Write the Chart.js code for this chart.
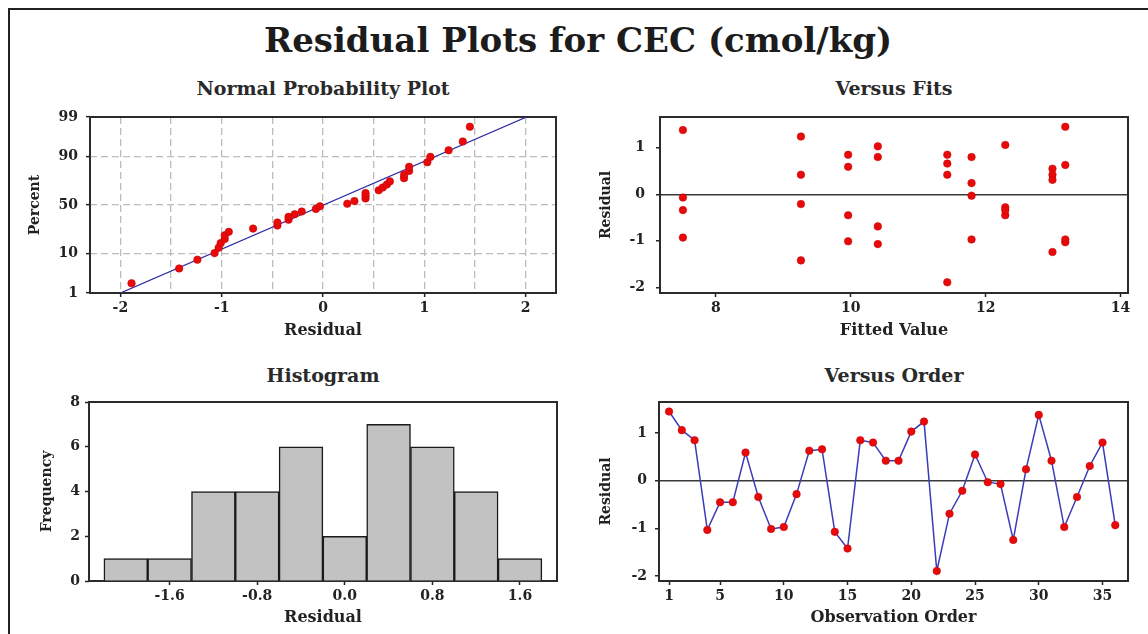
<!DOCTYPE html>
<html>
<head>
<meta charset="utf-8">
<title>Residual Plots for CEC (cmol/kg)</title>
<script src="https://cdn.jsdelivr.net/npm/chart.js@4.4.1/dist/chart.umd.min.js"></script>
<style>
  html, body { margin: 0; padding: 0; background: #fff; }
  body { width: 1148px; height: 634px; position: relative; overflow: hidden; font-family: "DejaVu Serif", serif; }
  .frame { position: absolute; left: 8px; top: 8px; width: 1160px; height: 660px; border-top: 2px solid #222; border-left: 2px solid #222; }
  .title { position: absolute; font-weight: bold; line-height: 1; white-space: nowrap; transform: translateX(-50%); color: #1c1c1c; }
  .main { left: 578px; top: 23px; font-size: 34px; }
  .sub { font-size: 19px; color: #2a2a2a; }
  canvas { position: absolute; }
</style>
</head>
<body>
<div class="frame"></div>
<div class="title main">Residual Plots for CEC (cmol/kg)</div>
<div class="title sub" style="left:323px; top:79px;">Normal Probability Plot</div>
<div class="title sub" style="left:894px; top:79px;">Versus Fits</div>
<div class="title sub" style="left:323px; top:366px;">Histogram</div>
<div class="title sub" style="left:894px; top:366px;">Versus Order</div>

<canvas id="normal" width="540" height="233" style="left:26px; top:107px;"></canvas>
<canvas id="fits" width="541" height="233" style="left:597px; top:107px;"></canvas>
<canvas id="hist" width="529" height="235" style="left:38px; top:392px;"></canvas>
<canvas id="order" width="541" height="235" style="left:597px; top:392px;"></canvas>

<script>
// residuals in observation order
const residuals = [1.45, 1.06, 0.85, -1.03, -0.45, -0.45, 0.59, -0.34, -1.01, -0.97,
  -0.28, 0.63, 0.66, -1.07, -1.42, 0.85, 0.80, 0.42, 0.42, 1.03,
  1.24, -1.89, -0.69, -0.21, 0.55, -0.03, -0.07, -1.24, 0.24, 1.38,
  0.42, -0.97, -0.34, 0.31, 0.80, -0.93];

// fitted value of each observation
const fittedValues = [13.18, 12.29, 9.96, 13.18, 9.96, 12.29, 9.96, 7.51, 9.96, 11.79,
  12.29, 13.18, 11.43, 10.40, 9.26, 11.43, 10.40, 9.26, 11.43, 10.40,
  9.26, 11.43, 10.40, 9.26, 12.99, 11.79, 7.51, 12.99, 11.79, 7.51,
  12.99, 13.18, 12.29, 12.99, 11.79, 7.51];

// histogram
const histBinCenters = [-2.0, -1.6, -1.2, -0.8, -0.4, 0.0, 0.4, 0.8, 1.2, 1.6];
const histCounts = [1, 1, 4, 4, 6, 2, 7, 6, 4, 1];

// normal probability fit line (residual at 1% and 99%)
const fitLineResidual = [-2.0, 2.01];
const fitLinePercent = [1, 99];

// tick labels
const probTicks = [1, 10, 50, 90, 99];
const normalGridX = [-2, -1.5, -1, -0.5, 0, 0.5, 1, 1.5, 2];
const fitsTicks = [8, 10, 12, 14];
const histTicks = [-1.6, -0.8, 0.0, 0.8, 1.6];
const freqTicks = [0, 2, 4, 6, 8];
const orderTicks = [1, 5, 10, 15, 20, 25, 30, 35];
const residTicks = [-2, -1, 0, 1];

// inverse standard normal CDF (Acklam)
function probit(p) {
  const a = [-39.6968302866538, 220.946098424521, -275.928510446969, 138.357751867269, -30.6647980661472, 2.50662827745924];
  const b = [-54.4760987982241, 161.585836858041, -155.698979859887, 66.8013118877197, -13.2806815528857];
  const c = [-0.00778489400243029, -0.322396458041136, -2.40075827716184, -2.54973253934373, 4.37466414146497, 2.93816398269878];
  const d = [0.00778469570904146, 0.32246712907004, 2.445134137143, 3.75440866190742];
  const tail = q => (((((c[0] * q + c[1]) * q + c[2]) * q + c[3]) * q + c[4]) * q + c[5]) /
    ((((d[0] * q + d[1]) * q + d[2]) * q + d[3]) * q + 1);
  if (p < 0.02425) return tail(Math.sqrt(-2 * Math.log(p)));
  if (p > 1 - 0.02425) return -tail(Math.sqrt(-2 * Math.log(1 - p)));
  const q = p - 0.5, r = q * q;
  return (((((a[0] * r + a[1]) * r + a[2]) * r + a[3]) * r + a[4]) * r + a[5]) * q /
    (((((b[0] * r + b[1]) * r + b[2]) * r + b[3]) * r + b[4]) * r + 1);
}

const INK = '#222';
const RED = '#e60a0a';
const tickFont = { family: 'DejaVu Serif', size: 14, weight: 'bold' };
const xTitleFont = { family: 'DejaVu Serif', size: 16, weight: 'bold' };
const yTitleFont = { family: 'DejaVu Serif', size: 14, weight: 'bold' };

const plotBox = {
  id: 'plotBox',
  beforeDatasetsDraw(chart) {
    const { ctx, chartArea: a } = chart;
    ctx.save();
    ctx.strokeStyle = '#2b2b2b';
    ctx.lineWidth = 2;
    ctx.strokeRect(a.left, a.top, a.right - a.left, a.bottom - a.top);
    ctx.restore();
  }
};

const setTicks = values => scale => { scale.ticks = values.map(v => ({ value: v })); };

// fixed axis sizes so every plot box lands where the reference has it
function xAxis({ min, max, ticks, height, title, callback, grid }) {
  return {
    type: 'linear', min, max, offset: false,
    afterBuildTicks: setTicks(ticks),
    afterFit: s => { s.height = height; s.paddingLeft = 0; s.paddingRight = 0; },
    border: { display: false, dash: grid && grid.dash },
    grid: Object.assign({ drawOnChartArea: false, offset: false, tickLength: 4, tickWidth: 1.5, tickColor: INK }, grid),
    ticks: { font: tickFont, color: INK, padding: 3, maxRotation: 0, autoSkip: false, callback: callback || (v => v) },
    title: { display: true, text: title, font: xTitleFont, color: INK, padding: 0 }
  };
}

function yAxis({ min, max, ticks, width, title, callback, grid, pad }) {
  return {
    type: 'linear', min, max,
    afterBuildTicks: setTicks(ticks),
    afterFit: s => { s.width = width; s.paddingTop = 0; s.paddingBottom = 0; },
    border: { display: false, dash: grid && grid.dash },
    grid: Object.assign({ drawOnChartArea: false, tickLength: 4, tickWidth: 1.5, tickColor: INK }, grid),
    ticks: { font: tickFont, color: INK, padding: pad, autoSkip: false, callback: callback || (v => v) },
    title: { display: true, text: title, font: yTitleFont, color: INK, padding: { top: 1, bottom: 0 } }
  };
}

const baseOptions = (scales) => ({
  responsive: false,
  animation: false,
  layout: { padding: { top: 10, right: 10, left: 0, bottom: 0 } },
  plugins: { legend: { display: false }, tooltip: { enabled: false } },
  scales
});

const zeroLine = {
  drawOnChartArea: true,
  color: ctx => ctx.tick && ctx.tick.value === 0 ? '#3a3a3a' : 'rgba(0,0,0,0)',
  lineWidth: 1.5
};

// Normal probability plot
const sortedResiduals = residuals.slice().sort((p, q) => p - q);
const npPoints = sortedResiduals.map((r, i) => ({ x: r, y: probit((i + 1 - 0.3) / (sortedResiduals.length + 0.4)) }));
const npLine = fitLineResidual.map((r, i) => ({ x: r, y: probit(fitLinePercent[i] / 100) }));
const dashedGrid = { drawOnChartArea: true, color: '#bcbcbc', lineWidth: 1.3, dash: [7, 4] };

new Chart(document.getElementById('normal'), {
  type: 'scatter',
  data: {
    datasets: [
      { data: npPoints, pointRadius: 3.8, pointBackgroundColor: RED, pointBorderColor: '#c80000', pointBorderWidth: 0.5, order: 0 },
      { type: 'line', data: npLine, borderColor: '#2c2ca8', borderWidth: 1.3, pointRadius: 0, showLine: true, order: 1 }
    ]
  },
  options: baseOptions({
    x: xAxis({
      min: -2.3, max: 2.3, ticks: normalGridX, height: 47, title: 'Residual',
      callback: v => Number.isInteger(v) ? v : '',
      grid: Object.assign({}, dashedGrid, { tickColor: ctx => Number.isInteger(ctx.tick.value) ? INK : 'rgba(0,0,0,0)' })
    }),
    y: yAxis({
      min: probit(0.01), max: probit(0.99), ticks: probTicks.map(p => probit(p / 100)), width: 64,
      title: 'Percent', pad: 8, callback: (v, i) => probTicks[i], grid: dashedGrid
    })
  }),
  plugins: [plotBox]
});

// Versus fits
new Chart(document.getElementById('fits'), {
  type: 'scatter',
  data: {
    datasets: [{
      data: residuals.map((r, i) => ({ x: fittedValues[i], y: r })),
      pointRadius: 3.8, pointBackgroundColor: RED, pointBorderColor: '#c80000', pointBorderWidth: 0.5
    }]
  },
  options: baseOptions({
    x: xAxis({ min: 7.17, max: 14.11, ticks: fitsTicks, height: 47, title: 'Fitted Value' }),
    y: yAxis({ min: -2.12, max: 1.66, ticks: residTicks, width: 63, title: 'Residual', pad: 11, grid: zeroLine })
  }),
  plugins: [plotBox]
});

// Histogram
new Chart(document.getElementById('hist'), {
  type: 'bar',
  data: {
    datasets: [{
      data: histBinCenters.map((c, i) => ({ x: c, y: histCounts[i] })),
      backgroundColor: '#c2c2c2', borderColor: '#1a1a1a', borderWidth: 1.5,
      barPercentage: 1, categoryPercentage: 1, grouped: false
    }]
  },
  options: baseOptions({
    x: xAxis({ min: -2.336, max: 1.938, ticks: histTicks, height: 46, title: 'Residual', callback: v => v.toFixed(1) }),
    y: yAxis({ min: 0, max: 8, ticks: freqTicks, width: 51, title: 'Frequency', pad: 5 })
  }),
  plugins: [plotBox]
});

// Versus order
new Chart(document.getElementById('order'), {
  type: 'line',
  data: {
    datasets: [{
      data: residuals.map((r, i) => ({ x: i + 1, y: r })),
      borderColor: '#3c3cb8', borderWidth: 1.5, tension: 0,
      pointRadius: 3.8, pointBackgroundColor: RED, pointBorderColor: '#c80000', pointBorderWidth: 0.5
    }]
  },
  options: baseOptions({
    x: xAxis({ min: 0.21, max: 37.0, ticks: orderTicks, height: 46, title: 'Observation Order' }),
    y: yAxis({ min: -2.1, max: 1.65, ticks: residTicks, width: 62, title: 'Residual', pad: 8, grid: zeroLine })
  }),
  plugins: [plotBox]
});
</script>
</body>
</html>
